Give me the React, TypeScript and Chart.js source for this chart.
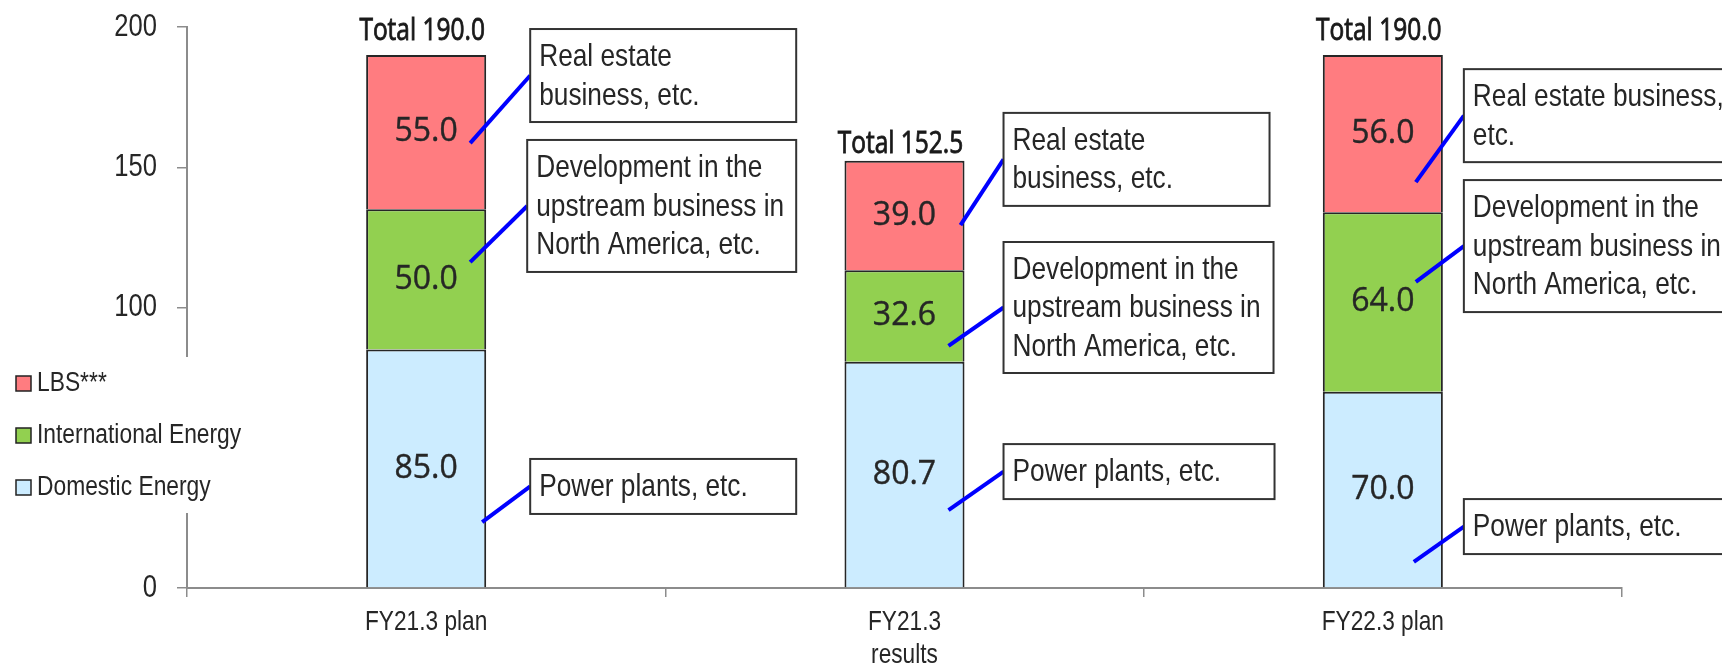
import React, { useEffect, useRef } from "react";
import { Chart, registerables } from "chart.js";

Chart.register(...registerables);

// ---- data ----
const categories = [["FY21.3 plan"], ["FY21.3", "results"], ["FY22.3 plan"]];
const seriesNames = ["Domestic Energy", "International Energy", "LBS***"];
const domesticEnergy = [85.0, 80.7, 70.0];
const internationalEnergy = [50.0, 32.6, 64.0];
const lbs = [55.0, 39.0, 56.0];
const totals = [190.0, 152.5, 190.0];
const yTickValues = [0, 50, 100, 150, 200];

// callout texts (per category) for each series
const powerNotes = [["Power plants, etc."], ["Power plants, etc."], ["Power plants, etc."]];
const upstreamNotes = [
  ["Development in the", "upstream business in", "North America, etc."],
  ["Development in the", "upstream business in", "North America, etc."],
  ["Development in the", "upstream business in", "North America, etc."],
];
const realEstateNotes = [
  ["Real estate", "business, etc."],
  ["Real estate", "business, etc."],
  ["Real estate business,", "etc."],
];

// ---- styles / layout (not data) ----
const seriesColors = ["#CCECFF", "#92D050", "#FF7C80"];
const notesBySeries = [powerNotes, upstreamNotes, realEstateNotes];
// [leaderStartDxFromBarCenter, leaderStartValue, boxDxFromBarRight, boxCenterValue, boxW, boxH]
const calloutLayout = [
  [[56, 23.5, 44, 36.2, 266, 55], [44, 116.2, 41, 136.2, 269, 132], [44, 158.6, 44, 182.7, 266, 93]],
  [[44, 27.8, 39, 41.5, 271, 55], [44, 86.3, 39, 100.0, 270, 131], [56, 129.4, 39, 152.8, 266, 93]],
  [[31, 9.3, 21, 21.9, 300, 55], [33, 109.1, 21, 121.9, 300, 132], [33, 144.7, 21, 168.4, 300, 93]],
];
const totalGap = [24, 17, 24];

const NARROW = "Liberation Sans, Arial, sans-serif";
const TEXT = "#262626";

function txt(
  ctx: CanvasRenderingContext2D,
  s: string,
  x: number,
  y: number,
  font: string,
  sx: number,
  align: CanvasTextAlign,
  color: string,
  stroke = 0
) {
  ctx.save();
  ctx.font = font;
  ctx.fillStyle = color;
  ctx.textBaseline = "middle";
  ctx.textAlign = align;
  ctx.translate(x, y);
  ctx.scale(sx, 1);
  ctx.fillText(s, 0, 0);
  if (stroke > 0) {
    ctx.strokeStyle = color;
    ctx.lineWidth = stroke;
    ctx.strokeText(s, 0, 0);
  }
  ctx.restore();
}

const overlayPlugin = {
  id: "overlay",
  afterDraw(chart: any) {
    const ctx: CanvasRenderingContext2D = chart.ctx;
    const xs = chart.scales.x;
    const ys = chart.scales.y;

    // y tick labels
    yTickValues.forEach((v) => {
      txt(ctx, String(v), ys.right - 30, ys.getPixelForValue(v), `32px ${NARROW}`, 0.8, "right", TEXT);
    });

    // x category labels
    categories.forEach((lines, i) => {
      const cx = xs.getPixelForValue(i);
      lines.forEach((l, k) => {
        txt(ctx, l, cx, xs.top + 34 + k * 33, `28px ${NARROW}`, 0.81, "center", TEXT);
      });
    });

    // callouts
    for (let s = 0; s < 3; s++) {
      const meta = chart.getDatasetMeta(s);
      meta.data.forEach((el: any, i: number) => {
        const [sdx, sv, bdx, bcv, bw, bh] = calloutLayout[i][s];
        const barRight = el.x + el.width / 2;
        const bx = barRight + bdx;
        const bcy = ys.getPixelForValue(bcv);
        const by = bcy - bh / 2;
        // leader
        ctx.save();
        ctx.strokeStyle = "#0000FF";
        ctx.lineWidth = 4;
        ctx.beginPath();
        ctx.moveTo(el.x + sdx, ys.getPixelForValue(sv));
        ctx.lineTo(bx, bcy);
        ctx.stroke();
        // box
        ctx.fillStyle = "#ffffff";
        ctx.fillRect(bx, by, bw, bh);
        ctx.strokeStyle = "#333333";
        ctx.lineWidth = 2;
        ctx.strokeRect(bx, by, bw, bh);
        ctx.restore();
        const lines = notesBySeries[s][i];
        const lh = 38.5;
        const startY = bcy + 1 - ((lines.length - 1) * lh) / 2;
        lines.forEach((l, k) => {
          txt(ctx, l, bx + 9, startY + k * lh, `32px ${NARROW}`, 0.82, "left", TEXT);
        });
      });
    }

    // value labels
    chart.data.datasets.forEach((ds: any, d: number) => {
      const meta = chart.getDatasetMeta(d);
      meta.data.forEach((el: any, i: number) => {
        const cy = (el.y + el.base) / 2;
        txt(ctx, Number(ds.data[i]).toFixed(1), el.x, cy, `32px "Open Sans", "Noto Sans", sans-serif`, 1.0, "center", "#262626", 0.4);
      });
    });

    // totals
    const topMeta = chart.getDatasetMeta(2);
    topMeta.data.forEach((el: any, i: number) => {
      txt(
        ctx,
        "Total " + totals[i].toFixed(1),
        el.x - 4,
        el.y - totalGap[i],
        `31px "Open Sans", "Noto Sans", sans-serif`,
        0.79,
        "center",
        "#1a1a1a",
        0.9
      );
    });

    // legend (covers the axis line)
    ctx.save();
    ctx.fillStyle = "#ffffff";
    ctx.fillRect(0, 357, 250, 156);
    ctx.restore();
    const legendOrder = [2, 1, 0];
    legendOrder.forEach((s, k) => {
      const cy = 383.5 + k * 52;
      ctx.save();
      ctx.fillStyle = seriesColors[s];
      ctx.fillRect(16, cy - 7.5, 15, 15);
      ctx.strokeStyle = "#222222";
      ctx.lineWidth = 1.5;
      ctx.strokeRect(16, cy - 7.5, 15, 15);
      ctx.restore();
      txt(ctx, seriesNames[s], 37, cy, `27px ${NARROW}`, 0.845, "left", TEXT);
    });
  },
};

export default function App() {
  const ref = useRef<HTMLCanvasElement | null>(null);

  useEffect(() => {
    if (!ref.current) return;
    const values = [domesticEnergy, internationalEnergy, lbs];
    const chart = new Chart(ref.current, {
      type: "bar",
      data: {
        labels: categories.map((c) => c.join(" ")),
        datasets: values.map((v, s) => ({
          label: seriesNames[s],
          data: v,
          backgroundColor: seriesColors[s],
          borderColor: "#262626",
          borderWidth: 2,
          borderSkipped: "bottom",
          barPercentage: 0.251,
          categoryPercentage: 1.0,
        })),
      },
      options: {
        animation: false,
        responsive: false,
        events: [],
        layout: { padding: { top: 27, right: 100, left: 0, bottom: 0 } },
        plugins: { legend: { display: false }, tooltip: { enabled: false } },
        scales: {
          x: {
            stacked: true,
            offset: true,
            z: 1,
            grid: {
              offset: true,
              drawOnChartArea: false,
              drawTicks: true,
              tickLength: 9,
              color: "#8c8c8c",
              lineWidth: 1.5,
            },
            border: { color: "#8c8c8c", width: 2 },
            ticks: { display: false },
            afterFit: (s: any) => {
              s.height = 77;
            },
          },
          y: {
            stacked: true,
            min: 0,
            max: 200,
            ticks: { display: false, stepSize: 50 },
            grid: {
              drawOnChartArea: false,
              drawTicks: true,
              tickLength: 10,
              color: "#8c8c8c",
              lineWidth: 1.5,
            },
            border: { color: "#8c8c8c", width: 2 },
            afterFit: (s: any) => {
              s.width = 187;
            },
          },
        },
      } as any,
      plugins: [overlayPlugin],
    });
    return () => chart.destroy();
  }, []);

  return (
    <div style={{ position: "absolute", left: 0, top: 0, width: 1722, height: 665, background: "#fff" }}>
      <canvas ref={ref} width={1722} height={665} style={{ display: "block" }} />
    </div>
  );
}
